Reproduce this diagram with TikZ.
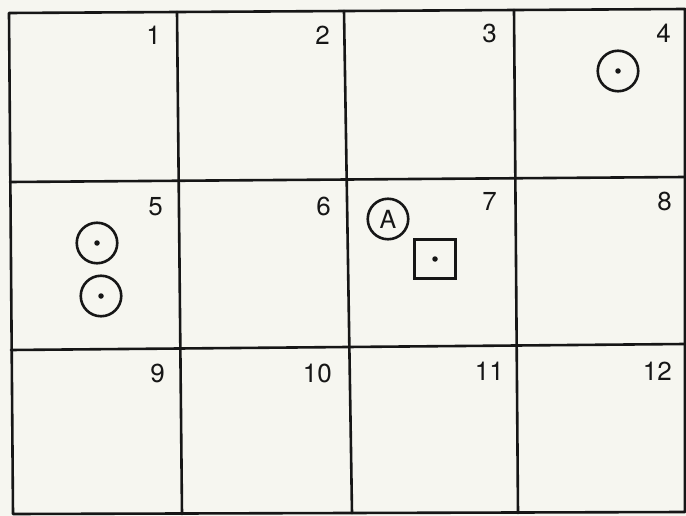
\documentclass[tikz,border=0pt]{standalone}
\usepackage{fontspec}
\setmainfont{TeX Gyre Heros}
\begin{document}
\begin{tikzpicture}[x=1pt,y=-1pt,
  gridline/.style={line width=2.6pt,draw=ink,line cap=round,line join=round},
  cellnum/.style={anchor=base east,inner sep=0pt,text=ink,font=\fontsize{26}{30}\selectfont},
  ring/.style={circle,draw=ink,line width=2.6pt,minimum size=40.5pt,inner sep=0pt},
  boxmark/.style={rectangle,draw=ink,line width=2.6pt,minimum width=40.5pt,minimum height=39.5pt,inner sep=0pt},
  dotmark/.style={circle,fill=ink,minimum size=5.5pt,inner sep=0pt}]
\definecolor{ink}{HTML}{161616}
\definecolor{paper}{HTML}{F6F6F0}
\fill[paper] (0,0) rectangle (686,516);
\useasboundingbox (0,0) rectangle (686,516);
% grid corners
\coordinate (v0t) at (9,13);   \coordinate (v0b) at (13,514);
\coordinate (v1t) at (177,12); \coordinate (v1b) at (182,514);
\coordinate (v2t) at (344,11); \coordinate (v2b) at (352,513);
\coordinate (v3t) at (514,10); \coordinate (v3b) at (518,513);
\coordinate (v4t) at (685,9);  \coordinate (v4b) at (685,512);
\coordinate (h1l) at (10,182); \coordinate (h1r) at (685,177);
\coordinate (h2l) at (11,350); \coordinate (h2r) at (685,344);
% outer frame and lines
\draw[gridline] (v0t) -- (v4t) -- (v4b) -- (v0b) -- cycle;
\draw[gridline] (v1t) -- (v1b);
\draw[gridline] (v2t) -- (v2b);
\draw[gridline] (v3t) -- (v3b);
\draw[gridline] (h1l) -- (h1r);
\draw[gridline] (h2l) -- (h2r);
% cell numbers
\node[cellnum] (n1) at (161,45) {1};
\node[cellnum] (n2) at (330,45) {2};
\node[cellnum] (n3) at (497,43) {3};
\node[cellnum] (n4) at (671,43) {4};
\node[cellnum] (n5) at (163,215) {5};
\node[cellnum] (n6) at (331,215) {6};
\node[cellnum] (n7) at (497,211) {7};
\node[cellnum] (n8) at (672,211) {8};
\node[cellnum] (n9) at (165,382) {9};
\node[cellnum] (n10) at (332,382) {10};
\node[cellnum] (n11) at (504,380) {11};
\node[cellnum] (n12) at (672,380) {12};
% marks
\node[ring] (r4) at (618,71) {};
\node[dotmark] (d4) at (r4.center) {};
\node[ring] (r5a) at (97,243) {};
\node[dotmark] (d5a) at (r5a.center) {};
\node[ring] (r5b) at (101,296) {};
\node[dotmark] (d5b) at (r5b.center) {};
\node[ring,text=ink,font=\fontsize{25}{30}\selectfont] (ra) at (388,219) {A};
\node[boxmark] (sq) at (435,259) {};
\node[dotmark] (dsq) at (sq.center) {};
\end{tikzpicture}
\end{document}
